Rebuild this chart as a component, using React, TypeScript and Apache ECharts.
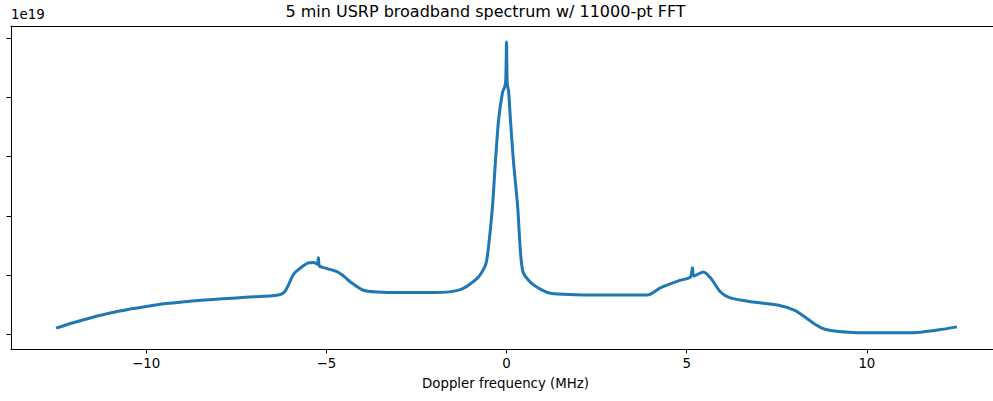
import React, { useEffect, useRef } from "react";
import * as echarts from "echarts";

// Doppler frequency (MHz) of each sample
const freqMHz = [
  -12.5, -12.0, -11.5, -11.0, -10.5, -10.0, -9.5, -9.0, -8.5, -8.0,
  -7.5, -7.0, -6.5, -6.27, -6.15, -6.05,
  -5.91, -5.71, -5.52, -5.35, -5.25, -5.22, -5.19, -5.0, -4.69, -4.5,
  -4.33, -3.97, -3.58, -2.94, -2.0, -1.28, -0.8, -0.58, -0.5, -0.39,
  -0.31, -0.22, -0.11, -0.05, -0.02, 0, 0.02, 0.06, 0.11, 0.19,
  0.31, 0.39, 0.47, 0.75, 1.22, 2.61, 3.91, 4.27, 4.83, 5.1,
  5.16, 5.2, 5.46, 5.66, 5.94, 6.21, 6.85, 7.52, 8.0, 8.25,
  8.5, 8.75, 9.0, 9.5, 10.0, 11.0, 11.5, 12.0, 12.5,
];

// Spectral power (units of 1e19)
const power = [
  1.1, 1.195, 1.28, 1.355, 1.415, 1.465, 1.51, 1.54, 1.57, 1.59,
  1.61, 1.63, 1.645, 1.67, 1.72, 1.83,
  2.01, 2.12, 2.2, 2.21, 2.18, 2.29, 2.15, 2.11, 2.05, 1.97,
  1.88, 1.74, 1.71, 1.7, 1.7, 1.75, 1.95, 2.17, 2.47, 3.15,
  3.89, 4.62, 5.09, 5.18, 5.3, 5.94, 5.25, 5.09, 4.62, 3.94,
  3.15, 2.37, 2.03, 1.83, 1.69, 1.66, 1.66, 1.78, 1.91, 1.96,
  2.12, 1.98, 2.05, 1.95, 1.71, 1.61, 1.54, 1.49, 1.4, 1.3,
  1.19, 1.1, 1.06, 1.03, 1.02, 1.02, 1.03, 1.07, 1.12,
];

const xTicks = [-10, -5, 0, 5, 10];
const yTicks = [1, 2, 3, 4, 5, 6];

const FONT = "DejaVu Sans";
const SPINE = { show: true, onZero: false, lineStyle: { color: "#000000", width: 1 } };

export default function App() {
  const ref = useRef<HTMLDivElement>(null);

  useEffect(() => {
    if (!ref.current) return;
    const chart = echarts.init(ref.current, null, { renderer: "svg" });
    const points = freqMHz.map((f, i) => [f, power[i]]);

    chart.setOption({
      animation: false,
      backgroundColor: "#ffffff",
      grid: { left: 11, top: 26, bottom: 52, right: 0 },
      xAxis: [
        {
          type: "value",
          position: "bottom",
          min: -13.75,
          max: 13.5,
          splitLine: { show: false },
          axisLine: SPINE,
          axisTick: {
            show: true,
            length: 4.5,
            customValues: xTicks,
            lineStyle: { color: "#000000" },
          },
          axisLabel: {
            customValues: xTicks,
            margin: 8,
            color: "#000000",
            fontFamily: FONT,
            fontSize: 13.33,
            formatter: (v: number) => String(v).replace("-", "\u2212"),
          },
        },
        {
          // top spine
          type: "value",
          position: "top",
          min: -13.75,
          max: 13.5,
          splitLine: { show: false },
          axisLine: SPINE,
          axisTick: { show: false },
          axisLabel: { show: false },
        },
      ],
      yAxis: {
        type: "value",
        position: "left",
        min: 0.746,
        max: 6.21,
        splitLine: { show: false },
        axisLine: SPINE,
        axisTick: {
          show: true,
          length: 4.5,
          customValues: yTicks,
          lineStyle: { color: "#000000" },
        },
        axisLabel: { show: false },
      },
      graphic: [
        {
          type: "text",
          x: 485.5,
          y: 3,
          style: {
            text: "5 min USRP broadband spectrum w/ 11000-pt FFT",
            fontFamily: FONT,
            fontSize: 16,
            fill: "#000000",
            textAlign: "center",
            textVerticalAlign: "top",
          },
        },
        {
          type: "text",
          x: 11,
          y: 8,
          style: {
            text: "1e19",
            fontFamily: FONT,
            fontSize: 13.33,
            fill: "#000000",
            textAlign: "left",
            textVerticalAlign: "top",
          },
        },
        {
          type: "text",
          x: 505.5,
          y: 377,
          style: {
            text: "Doppler frequency (MHz)",
            fontFamily: FONT,
            fontSize: 13.33,
            fill: "#000000",
            textAlign: "center",
            textVerticalAlign: "top",
          },
        },
      ],
      series: [
        {
          type: "line",
          xAxisIndex: 0,
          data: points,
          showSymbol: false,
          symbol: "none",
          smooth: 0.25,
          lineStyle: { color: "#1f77b4", width: 3 },
          z: 3,
        },
      ],
    });

    return () => chart.dispose();
  }, []);

  return (
    <div
      ref={ref}
      style={{ position: "absolute", left: 0, top: 0, width: 993, height: 401 }}
    />
  );
}
